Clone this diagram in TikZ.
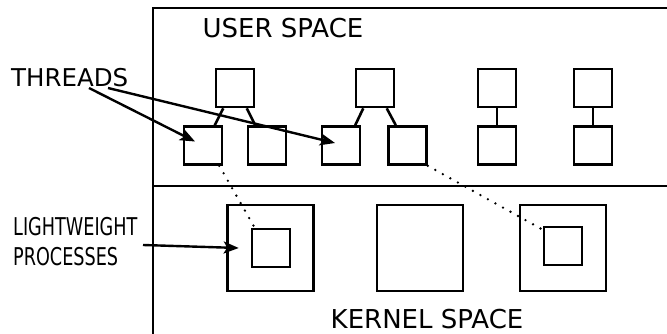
\documentclass[tikz,border=0pt]{standalone}
\usepackage{fontspec}
\setmainfont{DejaVu Sans}
\newfontfamily\condfont[FakeStretch=0.72]{DejaVu Sans}
\usetikzlibrary{arrows.meta,calc}
\begin{document}
\begin{tikzpicture}[x=1pt,y=-1pt,
  box/.style={draw,line width=2.6pt,minimum size=38pt,inner sep=0pt},
  bigbox/.style={draw,line width=2.4pt,minimum size=86pt,inner sep=0pt},
  link/.style={line width=2.6pt},
  frame/.style={line width=2.6pt},
  ptr/.style={line width=2.4pt,-{Stealth[length=15pt,width=12pt,inset=3.5pt]}},
  dots/.style={line width=2.6pt,dash pattern=on 0pt off 8.6pt,line cap=round},
  lbl/.style={font=\fontsize{24.5}{29}\selectfont,inner sep=0pt,anchor=base},
  blbl/.style={font=\fontsize{26}{30}\selectfont,inner sep=0pt,anchor=base},
  clbl/.style={font=\condfont\fontsize{24.5}{29}\selectfont,inner sep=0pt,anchor=base west}]
\useasboundingbox (0,0) rectangle (667,334);
% frame
\draw[frame] (153,334) -- (153,8) -- (667,8);
\draw[frame] (153,186) -- (667,186);
% user-level threads
\node[box] (A) at (235,88) {};
\node[box] (a1) at (203,145.5) {};
\node[box] (a2) at (267,145.5) {};
\node[box] (B) at (375,88) {};
\node[box] (b1) at (341,145.5) {};
\node[box] (b2) at (407.5,145.5) {};
\node[box] (C) at (497,88) {};
\node[box] (c1) at (497,145.5) {};
\node[box] (D) at (593,88) {};
\node[box] (d1) at (593,145.5) {};
\draw[link] (A.240) -- (a1.60);
\draw[link] (A.300) -- (a2.120);
\draw[link] (B.240) -- (b1.55);
\draw[link] (B.300) -- (b2.120);
\draw[link] (C) -- (c1);
\draw[link] (D) -- (d1);
% kernel
\node[bigbox] (K1) at (270.5,248) {};
\node[box] (k1) at (271,248) {};
\node[bigbox] (K2) at (420,248) {};
\node[bigbox] (K3) at (563,248) {};
\node[box] (k3) at (563,246) {};
% dotted mappings
\draw[dots] ($(a1.south east)+(-4,0)$) -- ($(k1.north west)+(4,0)$);
\draw[dots] (b2.south east) -- ($(k3.north west)+(0,4)$);
% labels
\node[blbl] (us) at (283,38) {USER SPACE};
\node[blbl] (ks) at (427,328) {KERNEL SPACE};
\node[lbl,anchor=base west] (th) at (11,87) {THREADS};
\node[clbl] (lw1) at (13,235) {LIGHTWEIGHT};
\node[clbl] (lw2) at (13,265) {PROCESSES};
% arrows
\coordinate (t1) at (89,88);
\coordinate (t2) at (108,88);
\coordinate (l1) at (143,245);
\draw[ptr] (t1) -- ($(a1)+(-8,-4)$);
\draw[ptr] (t2) -- ($(b1)+(-6,-2.5)$);
\draw[ptr] (l1) -- ($(k1.west)+(-12,0)$);
\end{tikzpicture}
\end{document}
